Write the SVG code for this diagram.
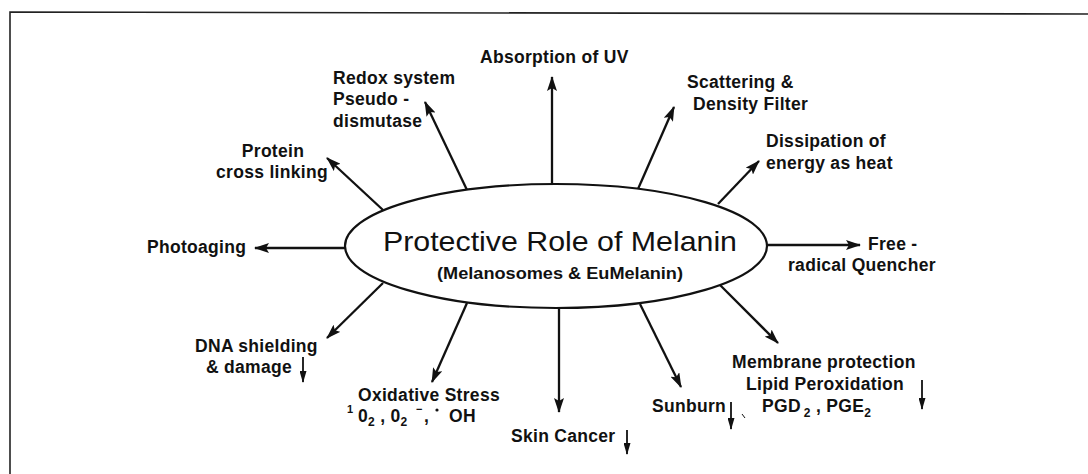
<svg xmlns="http://www.w3.org/2000/svg" width="1088" height="474" viewBox="0 0 1088 474">
<style>
.lbl{font-family:"Liberation Sans",Arial,Helvetica,sans-serif;font-weight:bold;font-size:17.5px;letter-spacing:0.3px;fill:#111}
.sub{font-size:12px}
.title{font-family:"Liberation Sans",Arial,Helvetica,sans-serif;font-size:28.5px;fill:#111}
.subt{font-family:"Liberation Sans",Arial,Helvetica,sans-serif;font-weight:bold;font-size:16.5px;fill:#111}
.conn{stroke:#111;stroke-width:2.3;fill:none;marker-end:url(#ah)}
.small{stroke:#111;stroke-width:1.8;fill:none;marker-end:url(#sh)}
</style>
<defs>
<marker id="ah" viewBox="0 0 15 10" refX="14" refY="5" markerWidth="15" markerHeight="10" markerUnits="userSpaceOnUse" orient="auto">
<path d="M0,0 L15,5 L0,10 L3,5 Z" fill="#111"/>
</marker>
<marker id="sh" viewBox="0 0 12 7" refX="11" refY="3.5" markerWidth="12" markerHeight="7" markerUnits="userSpaceOnUse" orient="auto">
<path d="M0,0 L12,3.5 L0,7 Z" fill="#111"/>
</marker>
</defs>
<rect width="1088" height="474" fill="#fff"/>
<path d="M10,474 L10,12 L1088,14" stroke="#222" stroke-width="1.6" fill="none"/>

<g id="connectors">
<line class="conn" x1="552" y1="185" x2="552" y2="77"/>
<line class="conn" x1="467" y1="190" x2="425" y2="102"/>
<line class="conn" x1="383" y1="210" x2="327" y2="158"/>
<line class="conn" x1="638" y1="189" x2="674" y2="107"/>
<line class="conn" x1="718" y1="204" x2="759" y2="161"/>
<line class="conn" x1="346" y1="248" x2="255" y2="248"/>
<line class="conn" x1="767" y1="245" x2="860" y2="245"/>
<line class="conn" x1="383" y1="283" x2="327" y2="338"/>
<line class="conn" x1="467" y1="303" x2="432" y2="382"/>
<line class="conn" x1="559" y1="308" x2="559" y2="412"/>
<line class="conn" x1="640" y1="304" x2="681" y2="387"/>
<line class="conn" x1="720" y1="285" x2="778" y2="343"/>
</g>

<g id="center">
<ellipse cx="556" cy="246" rx="211" ry="62" fill="#fff" stroke="#111" stroke-width="2.2"/>
<text class="title" x="383" y="251" textLength="354" lengthAdjust="spacingAndGlyphs">Protective Role of Melanin</text>
<text class="subt" x="437" y="279" textLength="246" lengthAdjust="spacingAndGlyphs">(Melanosomes &amp; EuMelanin)</text>
</g>

<g id="absorption"><text class="lbl" x="480" y="63">Absorption of UV</text></g>

<g id="redox">
<text class="lbl" x="333" y="84">Redox system</text>
<text class="lbl" x="333" y="105">Pseudo -</text>
<text class="lbl" x="333" y="127">dismutase</text>
</g>

<g id="protein">
<text class="lbl" x="273" y="157" text-anchor="middle">Protein</text>
<text class="lbl" x="272" y="178" text-anchor="middle">cross linking</text>
</g>

<g id="scattering">
<text class="lbl" x="687" y="88">Scattering &amp;</text>
<text class="lbl" x="693" y="110">Density Filter</text>
</g>

<g id="dissipation">
<text class="lbl" x="766" y="147">Dissipation of</text>
<text class="lbl" x="766" y="169">energy as heat</text>
</g>

<g id="photoaging"><text class="lbl" x="147" y="253">Photoaging</text></g>

<g id="free-radical">
<text class="lbl" x="868" y="250">Free -</text>
<text class="lbl" x="788" y="271">radical Quencher</text>
</g>

<g id="dna">
<text class="lbl" x="195" y="352">DNA shielding</text>
<text class="lbl" x="206" y="373">&amp; damage</text>
<line class="small" x1="303" y1="357" x2="303" y2="382"/>
</g>

<g id="oxidative">
<text class="lbl" x="358" y="401">Oxidative Stress</text>
<text class="lbl" x="347" y="413" style="font-size:11px">1</text>
<text class="lbl" x="358" y="422">0<tspan class="sub" dy="4">2</tspan><tspan dy="-4"> , 0</tspan><tspan class="sub" dy="4">2</tspan></text>
<text class="lbl" x="416" y="413" style="font-size:11px">−</text>
<text class="lbl" x="424" y="422">,</text>
<circle cx="437" cy="410" r="1.6" fill="#111"/>
<text class="lbl" x="449" y="422">OH</text>
</g>

<g id="skin-cancer">
<text class="lbl" x="511" y="442">Skin Cancer</text>
<line class="small" x1="627" y1="430" x2="627" y2="454"/>
</g>

<g id="sunburn">
<text class="lbl" x="652" y="412">Sunburn</text>
<line class="small" x1="731" y1="402" x2="731" y2="429"/>
<line x1="742" y1="414" x2="745" y2="418" stroke="#111" stroke-width="1"/>
</g>

<g id="membrane">
<text class="lbl" x="732" y="368">Membrane protection</text>
<text class="lbl" x="746" y="390">Lipid Peroxidation</text>
<text class="lbl" x="762" y="412">PGD<tspan class="sub" dx="3" dy="5">2</tspan><tspan dy="-5"> , PGE</tspan><tspan class="sub" dy="5">2</tspan></text>
<line class="small" x1="922" y1="380" x2="922" y2="409"/>
</g>
</svg>
